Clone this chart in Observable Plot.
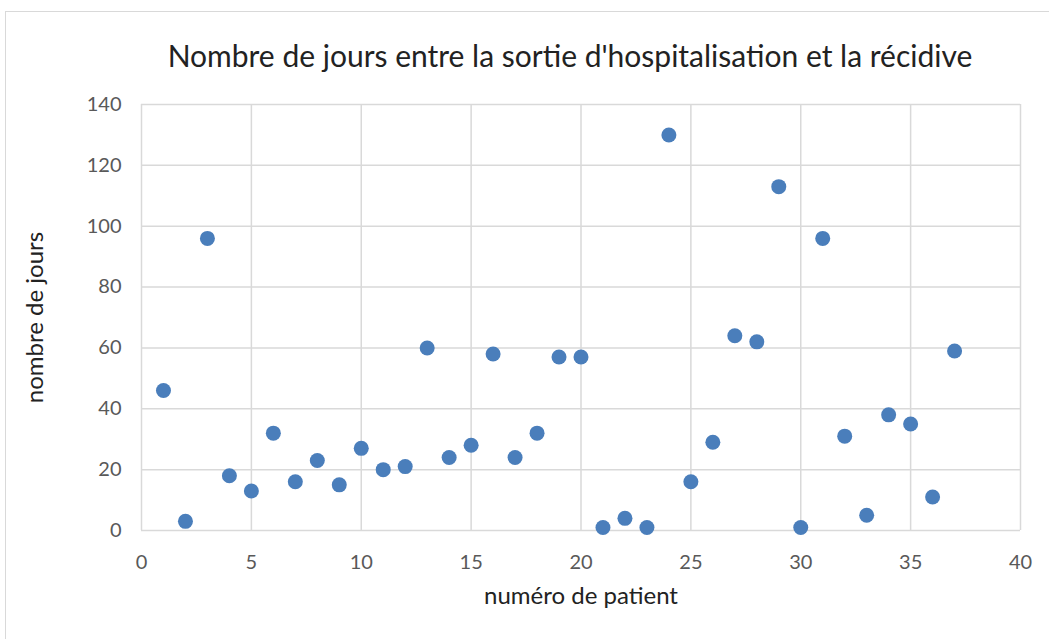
<!DOCTYPE html>
<html><head><meta charset="utf-8">
<script src="https://cdn.jsdelivr.net/npm/d3@7"></script>
<script src="https://cdn.jsdelivr.net/npm/@observablehq/plot@0.6"></script>
<style>
body{margin:0;background:#fff;}
#wrap{position:relative;width:1049px;height:639px;overflow:hidden;font-family:Lato,"Open Sans",sans-serif;}
#frame{position:absolute;left:5px;top:11px;width:1060px;height:640px;border:1px solid #d9d9d9;box-sizing:border-box;}
#title{position:absolute;left:0;width:1140px;top:37px;text-align:center;font-size:30px;color:#222;white-space:nowrap;}
#chart{position:absolute;left:0;top:0;}
</style></head>
<body><div id="wrap"><div id="frame"></div><div id="chart"></div><div id="title">Nombre de jours entre la sortie d'hospitalisation et la récidive</div></div>
<script>
const patients = [1,2,3,4,5,6,7,8,9,10,11,12,13,14,15,16,17,18,19,20,21,22,23,24,25,26,27,28,29,30,31,32,33,34,35,36,37];
const days = [46,3,96,18,13,32,16,23,15,27,20,21,60,24,28,58,24,32,57,57,1,4,1,130,16,29,64,62,113,1,96,31,5,38,35,11,59];
const xTicks = [0,5,10,15,20,25,30,35,40];
const yTicks = [0,20,40,60,80,100,120,140];
const data = patients.map((p,i)=>({p, d: days[i]}));
const chart = Plot.plot({
  width:1049, height:639,
  marginLeft:141, marginRight:29, marginTop:104, marginBottom:109,
  style:{fontFamily:"Lato, 'Open Sans', sans-serif", fontSize:"20px", color:"#595959", background:"transparent"},
  x:{domain:[0,40], ticks:xTicks, label:null},
  y:{domain:[0,140], ticks:yTicks, label:null},
  marks:[
    Plot.gridX(xTicks,{stroke:"#d9d9d9", strokeOpacity:1, strokeWidth:1.5}),
    Plot.gridY(yTicks,{stroke:"#d9d9d9", strokeOpacity:1, strokeWidth:1.5}),
    Plot.axisX(xTicks,{tickSize:0, tickPadding:24, fontSize:20, fill:"#595959"}),
    Plot.axisY(yTicks,{tickSize:0, tickPadding:20, fontSize:20, fill:"#595959"}),
    Plot.dot(data,{x:"p", y:"d", r:7.5, fill:"#4a7ebb", stroke:"none"}),
    Plot.text(["numéro de patient"],{frameAnchor:"bottom", dy:73, fontSize:24, fill:"#222"}),
    Plot.text(["nombre de jours"],{frameAnchor:"left", dx:-106, rotate:-90, textAnchor:"middle", fontSize:24, fill:"#222"})
  ]
});
document.getElementById("chart").append(chart);
</script></body></html>
